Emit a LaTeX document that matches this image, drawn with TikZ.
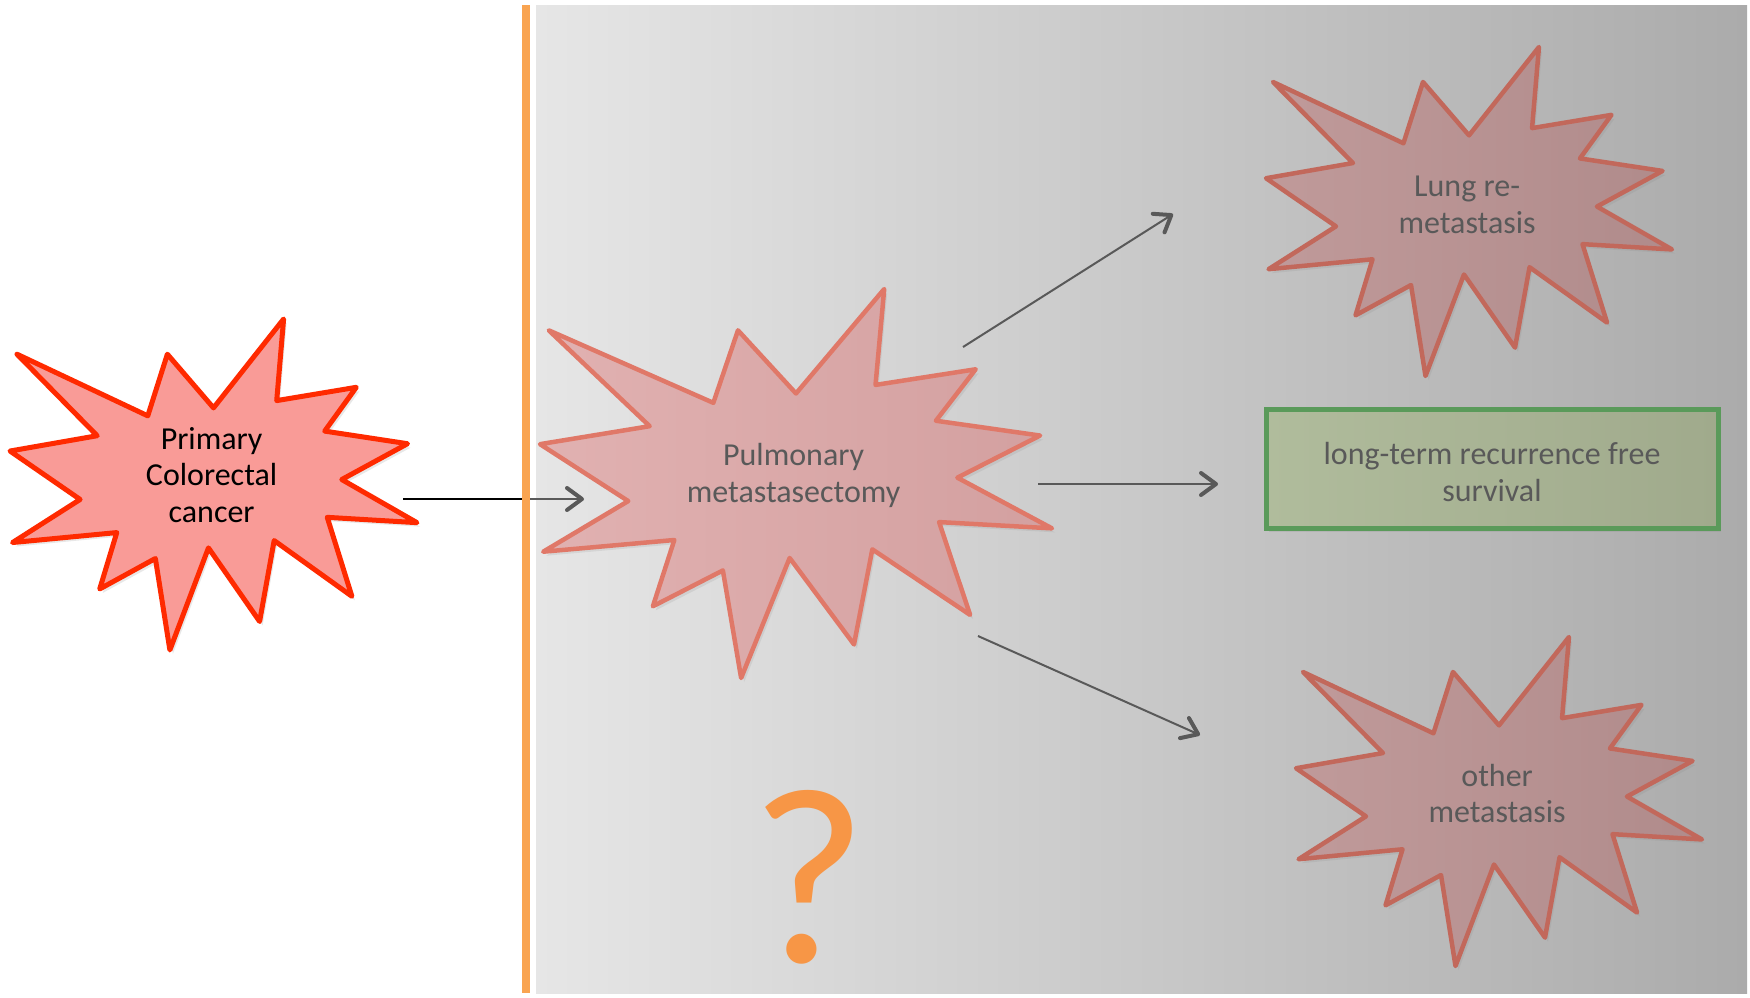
\documentclass[tikz,border=0pt]{standalone}
\usepackage{fontspec}
\setmainfont{Carlito}
\usetikzlibrary{arrows.meta,shadows}
\definecolor{panelL}{HTML}{E6E6E6}
\definecolor{panelR}{HTML}{ABABAB}
\definecolor{barorange}{HTML}{F9A451}
\definecolor{redstroke}{HTML}{FF2A00}
\definecolor{redfill}{HTML}{F99B97}
\definecolor{pulstroke}{HTML}{E07868}
\definecolor{pulL}{HTML}{E1B1B1}
\definecolor{pulR}{HTML}{D3A0A0}
\definecolor{metstroke}{HTML}{C2685B}
\definecolor{metL}{HTML}{C09A9A}
\definecolor{metR}{HTML}{B08B8B}
\definecolor{txtgray}{HTML}{595959}
\definecolor{arrowgray}{HTML}{595959}
\definecolor{boxstroke}{HTML}{5A9A5A}
\definecolor{boxL}{HTML}{B0BC9C}
\definecolor{boxR}{HTML}{A0AA8C}
\definecolor{qorange}{HTML}{F79646}

% irregular seal (explosion) in a 216 x 216 box
\newcommand\sealshape[8]{%
  \begin{scope}[xshift=#1pt, yshift=-#2pt, x={#3pt/216}, y={-#4pt/216}]
    \draw[#5] (108,58) -- (145.22,0) -- (141.55,53.25) -- (183.80,44.57) -- (167.02,73.15)
      -- (210.97,81.37) -- (176.07,104.75) -- (216,132.90) -- (168.37,129.42) -- (181.45,180.95)
      -- (140.20,144.57) -- (132.47,197.37) -- (105.32,149.35) -- (84.85,216) -- (77.15,156.27)
      -- (47.62,176.17) -- (56.67,139.37) -- (1.35,145.87) -- (37.22,117.75) -- (0,86.15)
      -- (46.27,76.17) -- (3.70,22.95) -- (73.12,63.20) -- (83.52,22.95) -- cycle;
    \node[#7] (#6) at (107,103.5) {#8};
  \end{scope}}

\tikzset{
  sealtext/.style={align=center, font=\fontsize{32}{36.5}\selectfont, inner sep=0pt},
  redseal/.style={draw=redstroke, fill=redfill, line width=5pt, line join=round,
    drop shadow={opacity=0.18, shadow xshift=3pt, shadow yshift=-4pt}},
  pulseal/.style={draw=pulstroke, left color=pulL, right color=pulR, line width=4.5pt, line join=round,
    drop shadow={opacity=0.15, shadow xshift=3pt, shadow yshift=-4pt}},
  metseal/.style={draw=metstroke, left color=metL, right color=metR, line width=4.5pt, line join=round,
    drop shadow={opacity=0.15, shadow xshift=3pt, shadow yshift=-4pt}},
  conn/.style={draw=arrowgray, line width=2pt,
    -{Straight Barb[length=15pt, width=22pt, line width=4pt, round]}},
  outbox/.style={draw=boxstroke, line width=5pt, left color=boxL, right color=boxR,
    minimum width=452pt, minimum height=119pt, align=center, text=txtgray,
    font=\fontsize{32}{36.5}\selectfont,
    drop shadow={opacity=0.18, shadow xshift=3pt, shadow yshift=-4pt}},
  qmark/.style={text=qorange, font=\fontsize{252}{252}\selectfont, inner sep=30pt}
}

\begin{document}
\begin{tikzpicture}[x=1pt, y=-1pt]
\useasboundingbox (0,0) rectangle (1750,997);
\fill[white] (0,0) rectangle (1750,997);
% background panel
\shade[left color=panelL, right color=panelR] (536,5) rectangle (1747,993);

% arrow endpoints
\coordinate (a1s) at (403,499);
\coordinate (a1b) at (526,499);
\coordinate (a1e) at (584,499);
\coordinate (a2s) at (963,347);
\coordinate (a2e) at (1173,214);
\coordinate (a3s) at (1038,484);
\coordinate (a3e) at (1218,484);
\coordinate (a4s) at (978,636);
\coordinate (a4e) at (1200,735);

% first arrow: black over the white part, grey inside the panel
\draw[conn] (a1s) -- (a1e);
\draw[black, line width=2pt] (a1s) -- (a1b);

% orange divider
\fill[barorange] (522,5) rectangle (530,993);

% shapes
\sealshape{10}{319}{407}{331}{redseal}{primary}{sealtext, text=black, yshift=3pt}{Primary\\Colorectal\\cancer}
\sealshape{540}{289}{512}{389}{pulseal}{pulm}{sealtext, text=txtgray}{Pulmonary\\metastasectomy}
\sealshape{1266}{47}{406}{329}{metseal}{lung}{sealtext, text=txtgray}{Lung re-\\metastasis}
\sealshape{1296}{637}{406}{329}{metseal}{other}{sealtext, text=txtgray, yshift=1pt}{other\\metastasis}

\node[outbox] (rfs) at (1492,468.5) {\rule{0pt}{29pt}long-term recurrence free\\survival};

\draw[conn] (a2s) -- (a2e);
\draw[conn] (a3s) -- (a3e);
\draw[conn] (a4s) -- (a4e);

\node[qmark] (q) at (809,877) {?};
\end{tikzpicture}
\end{document}
